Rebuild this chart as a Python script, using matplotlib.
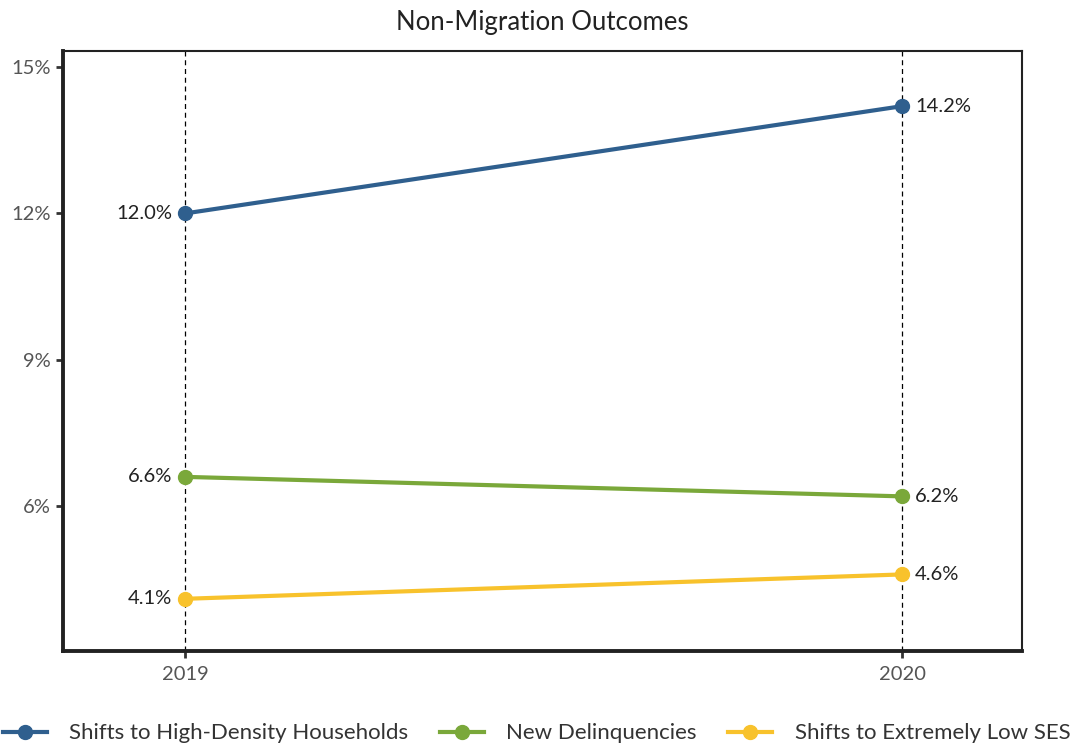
import numpy as np
import matplotlib.pyplot as plt

plt.rcParams['font.family'] = ['Lato', 'DejaVu Sans']

years = [2019, 2020]
series_names = ["Shifts to High-Density Households", "New Delinquencies", "Shifts to Extremely Low SES"]
high_density = [12.0, 14.2]
delinquencies = [6.6, 6.2]
low_ses = [4.1, 4.6]
colors = ["#2f5f8e", "#7aa83a", "#f8c22c"]
yticks = [6, 9, 12, 15]

fig = plt.figure(figsize=(10.73, 7.47), dpi=100)
ax = fig.add_axes([0.0587, 0.1285, 0.8938, 0.8032])

for x in years:
    ax.axvline(x, color="black", lw=0.9, ls=(0, (4, 3)), zorder=1)

for vals, name, c in zip([high_density, delinquencies, low_ses], series_names, colors):
    ax.plot(years, vals, color=c, lw=3, marker="o", ms=10, label=name, zorder=3)
    ax.text(years[0] - 0.018, vals[0], f"{vals[0]:.1f}%", ha="right", va="center",
            fontsize=14.5, color="#222222")
    ax.text(years[1] + 0.018, vals[1], f"{vals[1]:.1f}%", ha="left", va="center",
            fontsize=14.5, color="#222222")

ax.set_xlim(2018.83, 2020.167)
ax.set_ylim(3.03, 15.33)
ax.set_xticks(years)
ax.set_xticklabels([str(y) for y in years])
ax.set_yticks(yticks)
ax.set_yticklabels([f"{t}%" for t in yticks])
ax.tick_params(colors="#333333", labelcolor="#555555", labelsize=14.5, width=2, length=5)
ax.tick_params(axis="x", pad=6)

ax.spines["left"].set_linewidth(2.8)
ax.spines["bottom"].set_linewidth(2.8)
ax.spines["top"].set_linewidth(1.5)
ax.spines["right"].set_linewidth(1.5)
for s in ax.spines.values():
    s.set_color("#222222")

ax.set_title("Non-Migration Outcomes", fontsize=18.5, color="#222222", pad=15)

fig.legend(loc="lower center", bbox_to_anchor=(0.5, -0.022), ncol=3, frameon=False,
           fontsize=16, handlelength=2.0, handletextpad=1.0, columnspacing=1.4,
           labelcolor="#333333")

fig.savefig("out.png", dpi=100)
